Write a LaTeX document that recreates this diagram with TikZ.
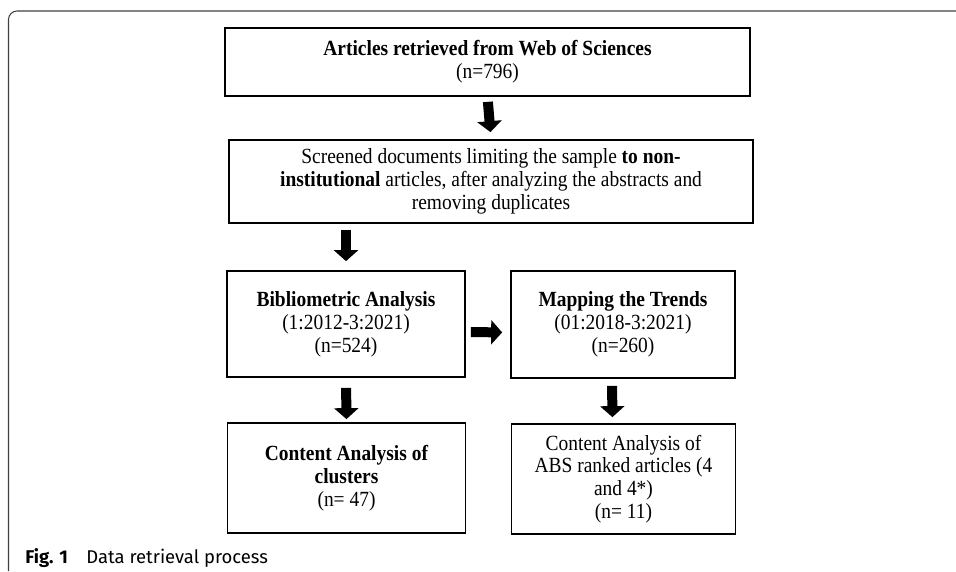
\documentclass[tikz,border=0pt]{standalone}
\usepackage{fontspec}
\setmainfont{Liberation Serif}[FakeStretch=0.9]
\newfontfamily\figfont{Fira Sans}
\usetikzlibrary{arrows.meta}

\begin{document}
\begin{tikzpicture}[x=0.02cm,y=-0.02cm,
    box/.style={draw,line width=1pt,inner sep=2pt,align=center,font=\fontsize{12.3}{13}\selectfont},
    fat/.style={line width=0.2cm,-{Triangle[width=0.48cm,length=0.22cm]}}]
      \useasboundingbox (0,0) rectangle (956,571);
      \draw[black!75,line width=0.6pt,rounded corners=0.17cm] (8.5,571) -- (8.5,11) -- (956,11);

      \node (b1) at (487.5,62) [box,minimum width=10.5cm,minimum height=1.36cm] {\textbf{Articles retrieved from Web of Sciences}\\(n=796)};
      \node (b2) at (491,181.5) [box,minimum width=10.48cm,minimum height=1.66cm] {Screened documents limiting the sample \textbf{to non-}\\\textbf{institutional} articles, after analyzing the abstracts and\\removing duplicates};
      \node (b3) at (346,324) [box,minimum width=4.76cm,minimum height=2.12cm] {\textbf{Bibliometric Analysis}\\(1:2012-3:2021)\\(n=524)};
      \node (b4) at (623,324.5) [box,minimum width=4.48cm,minimum height=2.14cm] {\textbf{Mapping the Trends}\\(01:2018-3:2021)\\(n=260)};
      \node (b5) at (346.5,478) [box,minimum width=4.76cm,minimum height=2.2cm] {\textbf{Content Analysis of}\\\textbf{clusters}\\(n= 47)};
      \node (b6) at (623.5,479) [box,minimum width=4.48cm,minimum height=2.2cm] {Content Analysis of\\ABS ranked articles (4\\and 4*)\\(n= 11)};
      \node (cap) at (25,563) [anchor=base west,inner sep=0pt,font=\figfont\fontsize{10.5}{12}\selectfont] {\textbf{Fig. 1}\hspace{1em}Data retrieval process};

      \draw[fat,shorten <=0.1cm,shorten >=0.14cm] (b1.south) -- (b2.north);
      \draw[fat,shorten <=0.12cm,shorten >=0.18cm] (b2.south -| b3.north) -- (b3.north);
      \draw[fat,shorten <=0.2cm,shorten >=0.06cm] (b3.south) -- (b5.north);
      \draw[fat,shorten <=0.14cm,shorten >=0.12cm] ([xshift=-0.22cm]b4.south) -- ([xshift=-0.22cm]b6.north);
      \draw[fat,shorten <=0.1cm,shorten >=0.16cm] ([yshift=-0.16cm]b3.east) -- ([yshift=-0.16cm]b4.west);
    \end{tikzpicture}
\end{document}
